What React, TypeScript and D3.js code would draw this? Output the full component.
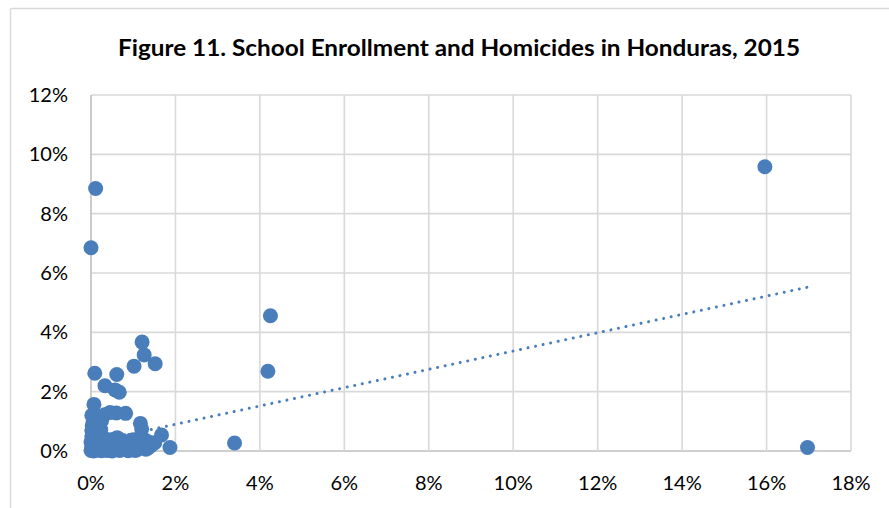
import React from "react";
import * as d3 from "d3";

const title = "Figure 11. School Enrollment and Homicides in Honduras, 2015";
const xTicks = [0, 2, 4, 6, 8, 10, 12, 14, 16, 18];
const yTicks = [0, 2, 4, 6, 8, 10, 12];

// share of school enrollment (%) per municipality
const enrollment = [
  0.11, 0.0, 15.96, 16.97, 4.25, 4.19, 3.4, 1.87,
  1.21, 1.26, 1.52, 1.02, 0.09, 0.61, 0.33, 0.57, 0.67,
  0.07, 0.32, 0.6, 0.82, 0.45,
  1.17, 1.2, 1.67, 1.51, 1.12,
  0.02, 0.12, 0.2, 0.05, 0.16, 0.25, 0.03, 0.13, 0.23, 0.05, 0.17, 0.02, 0.1, 0.24, 0.02,
  0.35, 0.48, 0.62, 0.75, 0.9, 1.0, 1.3, 1.42,
  0.05, 0.15, 0.28, 0.4, 0.55, 0.7, 0.85, 1.2,
  0.02, 0.1, 0.2, 0.32, 0.45, 0.6, 0.78, 0.95, 1.3,
  0.0, 0.06, 0.15, 0.25, 0.38, 0.5, 0.68, 0.88, 1.05, 0.08, 0.3,
  0.9, 1.05, 1.15, 0.7, 0.5, 0.38, 0.12, 0.2, 0.1, 0.08, 0.2, 1.35, 1.25, 1.4,
  0.0, 0.15, 0.3, 0.6, 0.8, 1.1,
];
// share of homicides (%) per municipality
const homicides = [
  8.85, 6.85, 9.58, 0.12, 4.56, 2.69, 0.27, 0.12,
  3.67, 3.24, 2.94, 2.86, 2.62, 2.58, 2.2, 2.06, 1.98,
  1.57, 1.22, 1.28, 1.27, 1.3,
  0.93, 0.74, 0.54, 0.28, 0.09,
  1.2, 1.18, 1.12, 1.0, 0.95, 1.02, 0.85, 0.8, 0.72, 0.65, 0.6, 0.5, 0.45, 0.5, 0.7,
  0.4, 0.38, 0.45, 0.35, 0.3, 0.38, 0.35, 0.18,
  0.32, 0.28, 0.25, 0.22, 0.2, 0.18, 0.15, 0.2,
  0.15, 0.12, 0.1, 0.08, 0.1, 0.05, 0.06, 0.04, 0.06,
  0.02, 0.0, 0.03, 0.01, 0.02, 0.0, 0.02, 0.01, 0.02, 0.22, 0.15,
  0.2, 0.25, 0.15, 0.3, 0.3, 0.35, 0.38, 0.55, 0.62, 0.9, 0.85, 0.1, 0.3, 0.28,
  0.3, 0.15, 0.05, 0.12, 0.25, 0.05,
];
// linear trend line (x %, y %)
const trendX = [0, 17];
const trendY = [0.283, 5.53];

const W = 889;
const H = 508;
const font = "Lato, 'Open Sans', sans-serif";
const blue = "#4a7ebb";

export default function App() {
  const x = d3.scaleLinear().domain([0, 18]).range([91, 851]);
  const y = d3.scaleLinear().domain([0, 12]).range([451, 95]);
  const pts = enrollment.map((e, i) => [e, homicides[i]]);
  const trend = d3
    .line<number>()
    .x((d) => x(d))
    .y((_, i) => y(trendY[i]))(trendX);

  return (
    <svg
      width={W}
      height={H}
      style={{ position: "absolute", left: 0, top: 0, background: "#fff" }}
    >
      <rect x={0} y={0} width={W} height={H} fill="#fff" />
      <line x1={10.5} y1={8.5} x2={W} y2={8.5} stroke="#d9d9d9" strokeWidth={1.5} />
      <line x1={10.5} y1={8.5} x2={10.5} y2={H} stroke="#d9d9d9" strokeWidth={1.5} />
      <text
        x={459}
        y={56}
        textAnchor="middle"
        fontFamily={font}
        fontWeight="bold"
        fontSize={22}
        fill="#000"
        textLength={682}
        lengthAdjust="spacingAndGlyphs"
      >
        {title}
      </text>
      {yTicks.map((t) => (
        <line
          key={"gy" + t}
          x1={x(0)}
          x2={x(18)}
          y1={y(t)}
          y2={y(t)}
          stroke={t === 0 ? "#bfbfbf" : "#d9d9d9"}
          strokeWidth={1.6}
        />
      ))}
      {xTicks.map((t) => (
        <line
          key={"gx" + t}
          x1={x(t)}
          x2={x(t)}
          y1={y(0)}
          y2={y(12)}
          stroke={t === 0 ? "#bfbfbf" : "#d9d9d9"}
          strokeWidth={1.6}
        />
      ))}
      {yTicks.map((t) => (
        <text
          key={"ly" + t}
          x={68}
          y={y(t) + 7}
          textAnchor="end"
          fontFamily={font}
          fontSize={20}
          fill="#000"
        >
          {t + "%"}
        </text>
      ))}
      {xTicks.map((t) => (
        <text
          key={"lx" + t}
          x={x(t)}
          y={490}
          textAnchor="middle"
          fontFamily={font}
          fontSize={20}
          fill="#000"
        >
          {t + "%"}
        </text>
      ))}
      {pts.map(([e, h], i) => (
        <circle key={i} cx={x(e)} cy={y(h)} r={7.5} fill={blue} />
      ))}
      <path
        d={trend || ""}
        fill="none"
        stroke={blue}
        strokeWidth={3}
        strokeLinecap="round"
        strokeDasharray="0.01 7.7"
      />
    </svg>
  );
}
